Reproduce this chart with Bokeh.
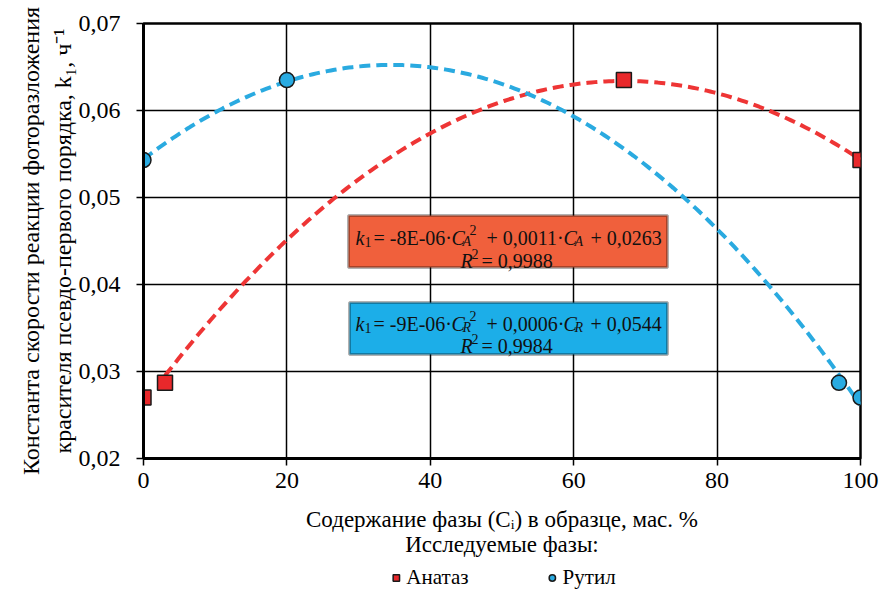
import numpy as np
from bokeh.plotting import figure
from bokeh.layouts import column
from bokeh.models import (Range1d, FixedTicker, CustomJSTickFormatter, Label,
                          BoxAnnotation, Legend, LegendItem)
from bokeh.embed import file_html
from bokeh.resources import INLINE

# ---- data ----
anatase_x = [0, 3, 67, 100]
anatase_y = [0.0270, 0.0287, 0.0635, 0.0543]
rutile_x = [0, 20, 97, 100]
rutile_y = [0.0543, 0.0635, 0.0287, 0.0270]
x_ticks = [0, 20, 40, 60, 80, 100]
y_ticks = [0.02, 0.03, 0.04, 0.05, 0.06, 0.07]
series_names = ["Анатаз", "Рутил"]
x_title = "Содержание фазы (Cᵢ) в образце, мас. %\nИсследуемые фазы:"
y_title = "Константа скорости реакции фоторазложения\nкрасителя псевдо-первого порядка, k₁, ч⁻¹"

FONT = "Liberation Serif"
RED_FILL, BLUE_FILL = "#E8282B", "#29ABE2"

# frame geometry (page pixels of reference) used only to place text annotations
PX0, PX1, PY0, PY1 = 143.0, 860.0, 458.0, 23.0
def dx(px):
    return (px - PX0) / (PX1 - PX0) * 100.0
def dy(py):
    return 0.02 + (PY0 - py) / (PY0 - PY1) * 0.05

p = figure(frame_width=717, frame_height=435, x_range=Range1d(0, 100), y_range=Range1d(0.02, 0.07),
           output_backend="svg", toolbar_location=None,
           min_border_left=143, min_border_right=23, min_border_top=23, min_border_bottom=0)

p.background_fill_color = "white"
p.border_fill_color = "white"
p.outline_line_color = "black"
p.outline_line_width = 2.5

p.xaxis.ticker = FixedTicker(ticks=x_ticks)
p.yaxis.ticker = FixedTicker(ticks=y_ticks)
p.yaxis.formatter = CustomJSTickFormatter(code="return tick.toFixed(2).replace('.', ',');")
for ax in (p.xaxis, p.yaxis):
    ax.axis_line_width = 3
    ax.axis_line_color = "black"
    ax.major_tick_line_color = "black"
    ax.major_tick_line_width = 1.5
    ax.major_tick_out = 7
    ax.major_tick_in = 0
    ax.minor_tick_line_color = None
    ax.major_label_text_font = FONT
    ax.major_label_text_font_size = "24px"
    ax.major_label_text_color = "black"
    ax.axis_label_text_font = FONT
    ax.axis_label_text_font_style = "normal"
    ax.axis_label_text_color = "black"
p.xaxis.major_label_standoff = 7
p.yaxis.major_label_standoff = 16
p.xaxis.axis_label = x_title
p.xaxis.axis_label_text_font_size = "23px"
p.xaxis.axis_label_standoff = 16
p.xaxis.axis_label_text_line_height = 1.0
p.yaxis.axis_label = y_title
p.yaxis.axis_label_text_font_size = "24px"
p.yaxis.axis_label_standoff = 0
p.yaxis.axis_label_text_line_height = 1.2

p.xgrid.ticker = FixedTicker(ticks=x_ticks)
p.ygrid.ticker = FixedTicker(ticks=y_ticks)
p.grid.grid_line_color = "black"
p.grid.grid_line_width = 1.5

# trend lines: quadratic fits of the points
ca = np.polyfit(anatase_x, anatase_y, 2)
cr = np.polyfit(rutile_x, rutile_y, 2)
xa = np.linspace(anatase_x[1], anatase_x[-1], 200)
xr = np.linspace(rutile_x[0], rutile_x[-1], 200)
p.line(xa, np.polyval(ca, xa), line_color="#EE3535", line_width=4, line_dash="11 6")
p.line(xr, np.polyval(cr, xr), line_color="#2AAAE0", line_width=4, line_dash="11 6")

p.scatter(anatase_x, anatase_y, marker="square", size=15, fill_color=RED_FILL,
          line_color="#1a1a1a", line_width=1.5)
p.scatter(rutile_x, rutile_y, marker="circle", size=15, fill_color=BLUE_FILL,
          line_color="#1a1a1a", line_width=1.5)

# equation boxes
p.add_layout(BoxAnnotation(left=dx(348), right=dx(667), top=dy(215), bottom=dy(267),
                           fill_color="#F0603C", fill_alpha=1, line_color="black", line_width=3))
p.add_layout(BoxAnnotation(left=dx(349), right=dx(667), top=dy(302), bottom=dy(354),
                           fill_color="#1CAEE8", fill_alpha=1, line_color="black", line_width=3))

def piece(xp, yp, text, italic=False, size=20, align="left", baseline="alphabetic",
          color="#111111"):
    p.add_layout(Label(x=dx(xp), y=dy(yp), text=text, text_font=FONT,
                       text_font_style="italic" if italic else "normal",
                       text_font_size=f"{size}px", text_align=align,
                       text_baseline=baseline, text_color=color))

def equation(yb, y2, sub, a_txt, b_txt, c_txt, r2_txt):
    piece(355, yb, "k", True)
    piece(364, yb + 4, "1", False, 14)
    piece(373, yb, a_txt)
    piece(451, yb, "C", True)
    piece(462, yb + 4, sub, True, 14)
    piece(469, yb - 8, "2", False, 14)
    piece(486, yb, b_txt)
    piece(563, yb, "C", True)
    piece(574, yb + 4, sub, True, 14)
    piece(590, yb, c_txt)
    piece(460, y2, "R", True)
    piece(471, y2 - 7, "2", False, 14)
    piece(481, y2, r2_txt)

equation(237, 260, "A", "= -8E-06·", "+ 0,0011·", "+ 0,0263", "= 0,9988")
equation(323, 345, "R", "= -9E-06·", "+ 0,0006·", "+ 0,0544", "= 0,9984")

# legend strip below the chart (its range keeps the series' points out of view)
lf = figure(frame_width=717, frame_height=36, x_range=Range1d(200, 300), y_range=Range1d(200, 300),
            output_backend="svg", toolbar_location=None,
            x_axis_location=None, y_axis_location=None,
            min_border_left=143, min_border_right=23, min_border_top=0, min_border_bottom=0)
lf.grid.visible = False
lf.outline_line_color = None
lf.background_fill_color = "white"
lf.border_fill_color = "white"
la = lf.scatter(anatase_x, anatase_y, marker="square", size=15, fill_color=RED_FILL,
                line_color="#1a1a1a", line_width=1.5)
lb = lf.scatter(rutile_x, rutile_y, marker="circle", size=15, fill_color=BLUE_FILL,
                line_color="#1a1a1a", line_width=1.5)
legend = Legend(items=[LegendItem(label=series_names[0], renderers=[la]),
                       LegendItem(label=series_names[1], renderers=[lb])],
                orientation="horizontal", location="center",
                border_line_color=None, background_fill_alpha=0,
                label_text_font=FONT, label_text_font_size="21px", label_text_color="black",
                spacing=75, glyph_width=16, glyph_height=16, label_standoff=3,
                padding=2, margin=0)
lf.add_layout(legend)

layout = column(p, lf, spacing=0)
open("out.html", "w").write(file_html(layout, INLINE))
